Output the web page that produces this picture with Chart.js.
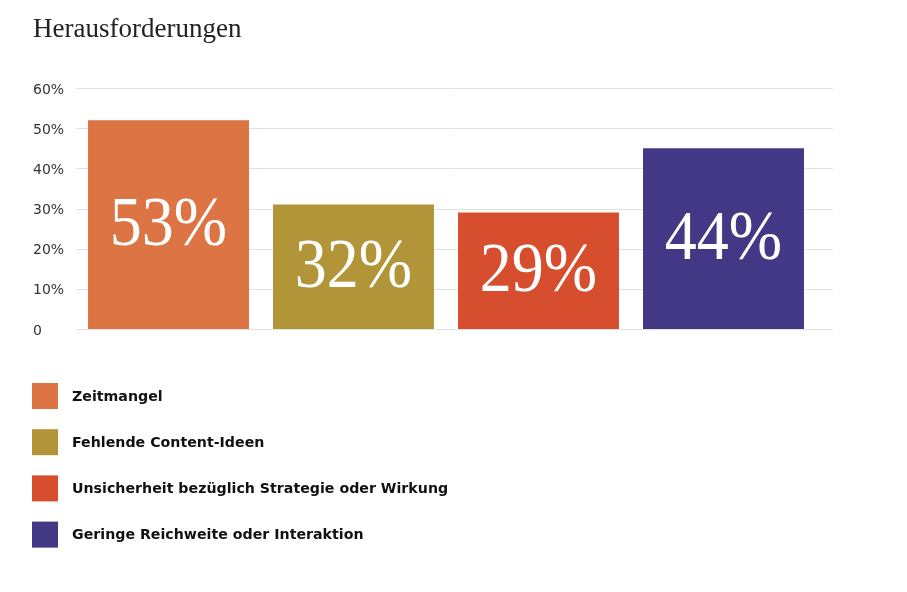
<!DOCTYPE html>
<html>
<head>
<meta charset="utf-8">
<script src="https://cdn.jsdelivr.net/npm/chart.js@4.4.1/dist/chart.umd.min.js"></script>
<style>
  html, body { margin: 0; padding: 0; background: #ffffff; }
  #wrap { position: relative; width: 907px; height: 592px; }
</style>
</head>
<body>
<div id="wrap"><canvas id="c"></canvas></div>
<script>
const chartTitle = 'Herausforderungen';
const categories = ['Zeitmangel', 'Fehlende Content-Ideen', 'Unsicherheit bezüglich Strategie oder Wirkung', 'Geringe Reichweite oder Interaktion'];
const barValues = [52, 31, 29, 45];
const barLabels = ['53%', '32%', '29%', '44%'];
const barColors = ['#DC7543', '#B39539', '#D64E2E', '#433886'];
const yTickLabels = ['0', '10%', '20%', '30%', '40%', '50%', '60%'];

const gridPlugin = {
  id: 'extGrid',
  beforeDatasetsDraw(chart) {
    const { ctx, chartArea, scales } = chart;
    const y = scales.y;
    ctx.save();
    ctx.strokeStyle = '#e2e2e2';
    ctx.lineWidth = 1;
    y.ticks.forEach(t => {
      const py = Math.round(y.getPixelForValue(t.value)) + 0.5;
      ctx.beginPath();
      ctx.moveTo(chartArea.left, py);
      ctx.lineTo(chartArea.right + 17, py);
      ctx.stroke();
    });
    ctx.restore();
  }
};

const labelPlugin = {
  id: 'barLabels',
  afterDatasetsDraw(chart) {
    const { ctx } = chart;
    const meta = chart.getDatasetMeta(0);
    ctx.save();
    ctx.fillStyle = '#ffffff';
    ctx.font = '64px "Liberation Serif", serif';
    ctx.textAlign = 'center';
    ctx.textBaseline = 'middle';
    meta.data.forEach((bar, i) => {
      const cy = (bar.y + bar.base) / 2 + 2;
      ctx.save();
      ctx.translate(bar.x, cy);
      ctx.scale(1, 1.1);
      ctx.fillText(barLabels[i], 0, 0);
      ctx.restore();
    });
    ctx.restore();
  }
};

const titleLegendPlugin = {
  id: 'titleLegend',
  afterDraw(chart) {
    const { ctx } = chart;
    ctx.save();
    ctx.fillStyle = '#222222';
    ctx.font = '27px "Liberation Serif", serif';
    ctx.textAlign = 'left';
    ctx.textBaseline = 'alphabetic';
    ctx.fillText(chartTitle, 33, 37);
    ctx.font = 'bold 14.2px "DejaVu Sans", sans-serif';
    ctx.textBaseline = 'middle';
    categories.forEach((c, i) => {
      const cy = 396 + i * 46.2;
      ctx.fillStyle = barColors[i];
      ctx.fillRect(32, cy - 13, 26, 26);
      ctx.fillStyle = '#111111';
      ctx.fillText(c, 72, cy + 1);
    });
    ctx.restore();
  }
};

new Chart(document.getElementById('c'), {
  type: 'bar',
  data: {
    labels: categories,
    datasets: [{
      data: barValues,
      backgroundColor: barColors,
      borderWidth: 0,
      barPercentage: 0.87,
      categoryPercentage: 1.0
    }]
  },
  options: {
    responsive: true,
    maintainAspectRatio: false,
    animation: false,
    layout: { padding: { left: 33, right: 91, top: 88, bottom: 263 } },
    plugins: {
      legend: { display: false },
      tooltip: { enabled: false },
      title: { display: false }
    },
    scales: {
      x: { display: false },
      y: {
        min: 0,
        max: 60,
        ticks: {
          stepSize: 10,
          crossAlign: 'far',
          color: '#333333',
          padding: 3,
          labelOffset: 2,
          font: { family: '"DejaVu Sans", sans-serif', size: 14 },
          callback: (v, i) => yTickLabels[i]
        },
        grid: { display: false },
        border: { display: false },
        afterFit: (s) => { s.width = 43; }
      }
    }
  },
  plugins: [gridPlugin, labelPlugin, titleLegendPlugin]
});
</script>
</body>
</html>
